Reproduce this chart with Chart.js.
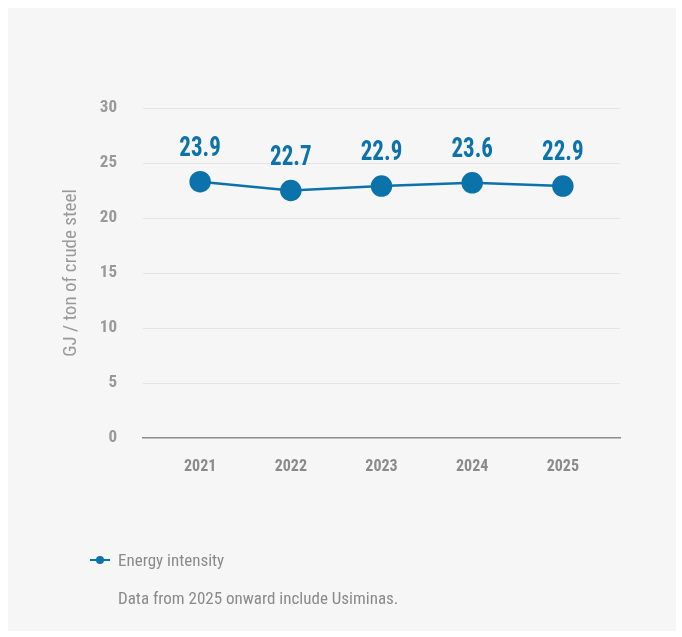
<!DOCTYPE html>
<html>
<head>
<meta charset="utf-8">
<script src="https://cdn.jsdelivr.net/npm/chart.js@4/dist/chart.umd.min.js"></script>
<style>
  html, body { margin:0; padding:0; background:#ffffff; width:682px; height:637px; overflow:hidden; }
  #panel { position:absolute; left:8px; top:8px; width:668px; height:623px; background:#f6f6f6; }
  #wrap { position:absolute; left:0; top:0; width:682px; height:637px; }
  .cond { font-family:'Liberation Sans Narrow','Roboto Condensed','DejaVu Sans Condensed',sans-serif; }
  #legend { position:absolute; left:90px; top:549px; height:22px; color:#8a8a8a; font-size:17px; line-height:22px; }
  #legend .mk { position:absolute; left:0; top:10px; width:20px; height:2px; background:#0b72aa; }
  #legend .dot { position:absolute; left:6px; top:7px; width:8px; height:8px; border-radius:50%; background:#0b72aa; }
  #legend .txt { position:absolute; left:28px; top:0; white-space:nowrap; }
  #note { position:absolute; left:118px; top:587px; color:#8a8a8a; font-size:17px; line-height:22px; white-space:nowrap; }
</style>
</head>
<body>
<div id="panel"></div>
<div id="wrap"><canvas id="c" width="682" height="637"></canvas></div>
<div id="legend" class="cond"><div class="mk"></div><div class="dot"></div><div class="txt" id="legendText"></div></div>
<div id="note" class="cond"></div>
<script>
const categories = ['2021', '2022', '2023', '2024', '2025'];
const intensity = [23.3, 22.5, 22.9, 23.2, 22.9];
const valueLabels = ['23.9', '22.7', '22.9', '23.6', '22.9'];
const yTickValues = [0, 5, 10, 15, 20, 25, 30];
const seriesName = 'Energy intensity';
const axisTitle = 'GJ / ton of crude steel';
const footnote = 'Data from 2025 onward include Usiminas.';

const FONT = "'Liberation Sans Narrow','Roboto Condensed','DejaVu Sans Condensed',sans-serif";
const BLUE = '#0b72aa';

document.getElementById('legendText').textContent = seriesName;
document.getElementById('note').textContent = footnote;

const labelPlugin = {
  id: 'valueLabels',
  afterDatasetsDraw(chart) {
    const ctx = chart.ctx;
    const meta = chart.getDatasetMeta(0);
    meta.data.forEach((pt, i) => {
      ctx.save();
      ctx.translate(pt.x, pt.y - 33);
      ctx.scale(0.92, 1.12);
      ctx.font = 'bold 25px ' + FONT;
      ctx.fillStyle = BLUE;
      ctx.textAlign = 'center';
      ctx.textBaseline = 'middle';
      ctx.fillText(valueLabels[i], 0, 0);
      ctx.restore();
    });
  }
};

new Chart(document.getElementById('c'), {
  type: 'line',
  data: {
    datasets: [{
      label: seriesName,
      data: intensity.map((v, i) => ({ x: i, y: v })),
      borderColor: BLUE,
      backgroundColor: BLUE,
      pointBackgroundColor: BLUE,
      pointBorderColor: BLUE,
      borderWidth: 2.5,
      pointRadius: 9.5,
      pointHoverRadius: 9.5,
      tension: 0
    }]
  },
  options: {
    responsive: false,
    animation: false,
    events: [],
    layout: { padding: { left: 0, top: 108, right: 62, bottom: 159 } },
    plugins: { legend: { display: false }, tooltip: { enabled: false } },
    scales: {
      x: {
        type: 'linear',
        min: -0.63,
        max: 4.63,
        afterBuildTicks(scale) {
          scale.ticks = categories.map((c, i) => ({ value: i }));
        },
        afterFit(scale) { scale.height = 40; },
        grid: { display: false, drawTicks: false },
        border: { display: true, color: '#8c8c8c', width: 1.5 },
        ticks: {
          autoSkip: false,
          maxRotation: 0,
          padding: 19,
          color: '#8a8a8a',
          font: { family: FONT, size: 16, weight: 'bold' },
          callback: (v) => categories[v] !== undefined ? categories[v] : ''
        }
      },
      y: {
        min: 0,
        max: 30,
        afterBuildTicks(scale) {
          scale.ticks = yTickValues.map(v => ({ value: v }));
        },
        afterFit(scale) { scale.width = 143; },
        grid: {
          drawTicks: false,
          color: (ctx) => ctx.tick && ctx.tick.value === 0 ? 'rgba(0,0,0,0)' : '#e4e4e4',
          lineWidth: 1
        },
        border: { display: false },
        ticks: {
          padding: 26,
          color: '#999999',
          font: { family: FONT, size: 17, weight: 'bold' }
        },
        title: {
          display: true,
          text: axisTitle,
          color: '#999999',
          padding: { top: 60, bottom: 0 },
          font: { family: FONT, size: 19 }
        }
      }
    }
  },
  plugins: [labelPlugin]
});
</script>
</body>
</html>
